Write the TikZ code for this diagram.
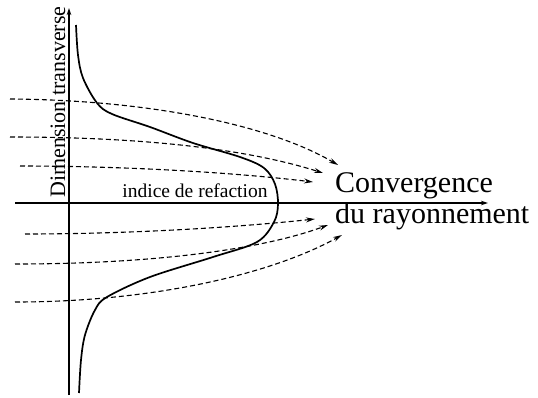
\documentclass[tikz,border=0pt]{standalone}
\usepackage{fontspec}
\setmainfont{Liberation Serif}
\usetikzlibrary{arrows.meta}
\begin{document}
\begin{tikzpicture}[x=1pt,y=-1pt,
  axis/.style={line width=1.3pt,-{Stealth[length=7pt,width=4.5pt]}},
  ray/.style={line width=1.1pt,dash pattern=on 5pt off 3pt,-{Stealth[length=9pt,width=5pt]}},
  profile/.style={line width=1.7pt},
  lbl/.style={inner sep=0pt,font=\fontsize{30}{30}\selectfont}]
\useasboundingbox (0,0) rectangle (538,397);
% axes
\coordinate (vb) at (69,395);
\coordinate (vt) at (69,8);
\coordinate (hl) at (15,203);
\coordinate (hr) at (488,203);
\draw[axis] (vb) -- (vt);
\draw[axis] (hl) -- (hr);
% profile
\draw[profile] plot[smooth,tension=0.55] coordinates {(76,25) (78,55) (83,78) (97,103) (112,114) (150,127) (193,143) (240,157) (264,168) (275,184) (278,204) (274,222) (257,242) (213,257) (150,277) (107,297) (95,310) (85,335) (81,360) (79,393)};
% labels
\node[rotate=90,anchor=base,inner sep=0pt,font=\fontsize{22}{22}\selectfont] (dim) at (65,102) {Dimension transverse};
\node[anchor=base,inner sep=0pt,font=\fontsize{19.5}{19.5}\selectfont] (ind) at (195,197) {indice de refaction};
\node[lbl,anchor=base west] (conv) at (335,192) {Convergence};
\node[lbl,anchor=base west] (ray) at (335,223) {du rayonnement};
% rays
\coordinate (a1) at (10,99);  \coordinate (b1) at (338,165);
\coordinate (a2) at (10,137); \coordinate (b2) at (323,173);
\coordinate (a3) at (20,166); \coordinate (b3) at (313,182);
\coordinate (a4) at (25,234); \coordinate (b4) at (315,219);
\coordinate (a5) at (15,264); \coordinate (b5) at (328,225);
\coordinate (a6) at (15,302); \coordinate (b6) at (342,235);
\draw[ray] (a1) .. controls (150,100) and (270,125) .. (b1);
\draw[ray] (a2) .. controls (150,137) and (250,150) .. (b2);
\draw[ray] (a3) .. controls (120,166) and (230,172) .. (b3);
\draw[ray] (a4) .. controls (125,234) and (230,228) .. (b4);
\draw[ray] (a5) .. controls (150,264) and (260,250) .. (b5);
\draw[ray] (a6) .. controls (150,302) and (270,275) .. (b6);
\end{tikzpicture}
\end{document}
